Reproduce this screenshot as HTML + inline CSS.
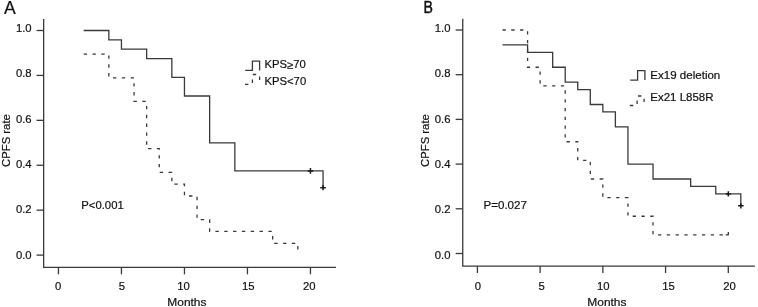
<!DOCTYPE html>
<html><head><meta charset="utf-8"><style>
html,body{margin:0;padding:0;background:#fff;}
svg{display:block;will-change:transform;}
</style></head><body>
<svg width="758" height="307" viewBox="0 0 758 307">
<g fill="none" stroke="#3a3a3a" stroke-width="1.3">
<path d="M43.65,19.0V267.45H336.0" />
<path d="M36.55,255.10H43.65" />
<path d="M36.55,210.18H43.65" />
<path d="M36.55,165.26H43.65" />
<path d="M36.55,120.34H43.65" />
<path d="M36.55,75.42H43.65" />
<path d="M36.55,30.50H43.65" />
<path d="M58.45,267.45V274.30" />
<path d="M121.45,267.45V274.30" />
<path d="M184.45,267.45V274.30" />
<path d="M247.45,267.45V274.30" />
<path d="M310.45,267.45V274.30" />
<path d="M462.75,18.8V266.1H754.9" />
<path d="M455.65,253.50H462.75" />
<path d="M455.65,208.80H462.75" />
<path d="M455.65,164.10H462.75" />
<path d="M455.65,119.40H462.75" />
<path d="M455.65,74.70H462.75" />
<path d="M455.65,30.00H462.75" />
<path d="M477.40,266.1V273.00" />
<path d="M540.12,266.1V273.00" />
<path d="M602.85,266.1V273.00" />
<path d="M665.58,266.1V273.00" />
<path d="M728.30,266.1V273.00" />
<path d="M83.65,30.50 H108.85 V39.86 H121.45 V49.22 H146.65 V58.57 H171.85 V77.29 H184.45 V96.01 H209.65 V142.80 H234.85 V170.88 H323.05 V187.72" />
<path stroke="#1a1a1a" stroke-width="1.5" d="M307.65,170.88H313.25M310.45,168.07V173.68M320.25,187.72H325.85M323.05,185.12V190.32" />
<path d="M83.65,54.14 H108.85 V77.78 H134.05 V101.43 H146.65 V148.71 H159.25 V172.35 H171.85 V184.17 H184.45 V195.99 H197.05 V219.64 H209.65 V231.46 H272.65 V243.28 H297.85 V255.10" stroke-dasharray="3.4 5.43" />
<path d="M502.49,44.90 H527.58 V52.35 H552.67 V67.25 H565.21 V82.15 H577.76 V89.60 H590.30 V104.50 H602.85 V111.95 H615.39 V126.85 H627.94 V164.10 H653.03 V179.00 H690.66 V186.45 H715.75 V193.90 H740.85 V205.83" />
<path stroke="#1a1a1a" stroke-width="1.5" d="M725.70,193.90H730.90M728.30,191.30V196.50M738.05,205.83H743.64M740.85,203.23V208.43" />
<path d="M502.49,30.00 H527.58 V67.25 H540.12 V85.88 H565.21 V141.75 H577.76 V160.38 H590.30 V179.00 H602.85 V197.62 H627.94 V216.25 H653.03 V234.88 H723.28" stroke-dasharray="3.3 5.49" />
<path d="M725.80,234.88H728.70M728.30,232.07V234.88" />
<path d="M245.20,70.40H252.40V61.10H259.60V70.40" />
<path d="M245.00,84.40H252.40V74.50H259.60V84.40" stroke-dasharray="3.4 5.43" />
<path d="M630.20,80.10H637.60V70.70H644.90V80.10" />
<path d="M629.80,105.50H637.10V96.00H644.10V105.50" stroke-dasharray="3.4 5.43" />
</g>
<g fill="#111" stroke="#111" stroke-width="0.2" font-family="Liberation Sans, sans-serif" font-size="11.3">
<text x="31.60" y="32.20" text-anchor="end">1.0</text>
<text x="31.60" y="77.40" text-anchor="end">0.8</text>
<text x="31.60" y="122.60" text-anchor="end">0.6</text>
<text x="31.60" y="167.70" text-anchor="end">0.4</text>
<text x="31.60" y="213.30" text-anchor="end">0.2</text>
<text x="31.60" y="258.50" text-anchor="end">0.0</text>
<text x="58.25" y="289.7" text-anchor="middle">0</text>
<text x="121.95" y="289.7" text-anchor="middle">5</text>
<text x="183.45" y="289.7" text-anchor="middle">10</text>
<text x="248.20" y="289.7" text-anchor="middle">15</text>
<text x="309.35" y="289.7" text-anchor="middle">20</text>
<text x="450.50" y="32.20" text-anchor="end">1.0</text>
<text x="450.50" y="77.40" text-anchor="end">0.8</text>
<text x="450.50" y="122.60" text-anchor="end">0.6</text>
<text x="450.50" y="167.70" text-anchor="end">0.4</text>
<text x="450.50" y="213.30" text-anchor="end">0.2</text>
<text x="450.50" y="258.50" text-anchor="end">0.0</text>
<text x="478.00" y="289.7" text-anchor="middle">0</text>
<text x="541.62" y="289.7" text-anchor="middle">5</text>
<text x="603.30" y="289.7" text-anchor="middle">10</text>
<text x="668.43" y="289.7" text-anchor="middle">15</text>
<text x="729.50" y="289.7" text-anchor="middle">20</text>
<text x="167.3" y="305.8" font-size="11.1" textLength="39.2" lengthAdjust="spacingAndGlyphs">Months</text>
<text x="587.3" y="305.8" font-size="11.1" textLength="39.2" lengthAdjust="spacingAndGlyphs">Months</text>
<text transform="translate(10.3,140.55) rotate(-90)" text-anchor="middle">CPFS rate</text>
<text transform="translate(429.1,140.55) rotate(-90)" text-anchor="middle">CPFS rate</text>
<text x="264.4" y="68.0">KPS<tspan dy="0.9">≥</tspan><tspan dy="-0.9">70</tspan></text>
<text x="264.4" y="84.8">KPS&lt;70</text>
<text x="650.3" y="78.8" textLength="70" lengthAdjust="spacingAndGlyphs">Ex19 deletion</text>
<text x="650.3" y="100.9" textLength="63.2" lengthAdjust="spacingAndGlyphs">Ex21 L858R</text>
<text x="81.3" y="208.7">P&lt;0.001</text>
<text x="483.5" y="208.7" textLength="43.4" lengthAdjust="spacingAndGlyphs">P=0.027</text>
<text x="3.9" y="13.7" font-size="17.6" stroke="#111" stroke-width="0.2">A</text>
<text transform="translate(423.6,13.3) scale(0.83,1)" font-size="17" stroke="#111" stroke-width="0.45">B</text>
</g>
</svg>
</body></html>
